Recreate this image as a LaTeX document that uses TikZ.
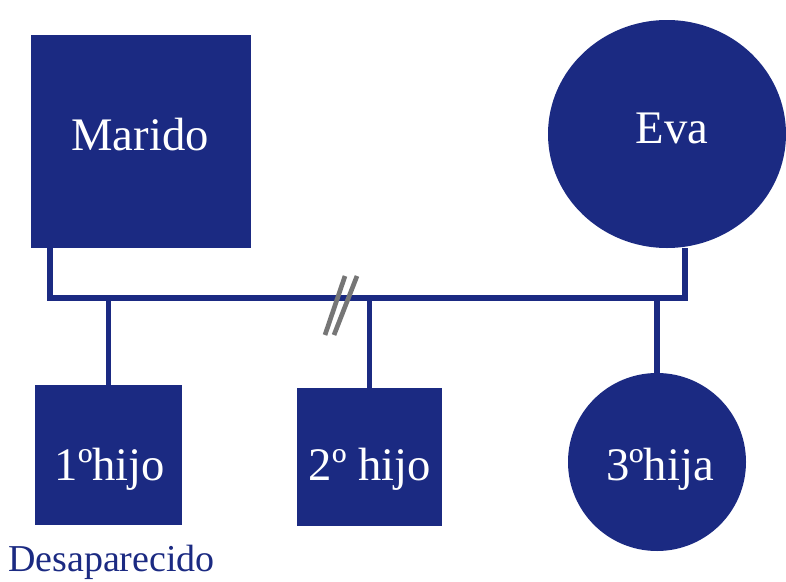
\documentclass[tikz,border=0pt]{standalone}
\usepackage{fontspec}
\setmainfont{Liberation Serif}
\usetikzlibrary{shapes.geometric,calc}
\definecolor{navy}{RGB}{27,42,130}
\definecolor{cutgray}{RGB}{118,118,118}
\begin{document}
\begin{tikzpicture}[x=0.75pt,y=-0.75pt,
    male/.style={rectangle,fill=navy,inner sep=0pt},
    female/.style={ellipse,fill=navy,inner sep=0pt},
    tag/.style={anchor=base,text=white,font=\fontsize{35}{40}\selectfont},
    link/.style={draw=navy,line width=4pt}]
    \useasboundingbox (0,0) rectangle (786,582);
    % parents
    \node[male,minimum width=165pt,minimum height=160pt] (marido) at (141,141.5) {};
    \node[female,minimum width=178.5pt,minimum height=171pt] (eva) at (667,134) {};
    % children
    \node[male,minimum width=110pt,minimum height=105pt] (hijo1) at (108.5,455) {};
    \node[male,minimum width=109pt,minimum height=103.5pt] (hijo2) at (369.5,457) {};
    \node[female,minimum size=133.5pt] (hija3) at (657,462) {};
    % marriage line
    \coordinate (lineL) at (50,298);
    \coordinate (lineR) at (685,298);
    \draw[link] (marido.south -| lineL) -- (lineL) -- (lineR) -- (eva.south -| lineR);
    \draw[link] (hijo1.north) -- (hijo1.north |- lineL);
    \draw[link] (hijo2.north) -- (hijo2.north |- lineL);
    \draw[link] (hija3.north) -- (hija3.north |- lineL);
    % divorce mark
    \coordinate (cut) at (341,305);
    \draw[cutgray,line width=3.5pt] ($(cut)+(-16,30)$) -- ($(cut)+(4,-29)$)
        ($(cut)+(-7,30)$) -- ($(cut)+(16,-29)$);
    % names
    \node[tag] (tmarido) at (140,150) {Marido};
    \node[tag] (teva) at (672,143) {Eva};
    \node[tag] (thijo1) at (110,480) {1ºhijo};
    \node[tag] (thijo2) at (370,480) {2º hijo};
    \node[tag] (thija3) at (660,480) {3ºhija};
    \node[anchor=base,text=navy,font=\fontsize{28.5}{32}\selectfont] (desap) at (111.5,571) {Desaparecido};
\end{tikzpicture}
\end{document}
